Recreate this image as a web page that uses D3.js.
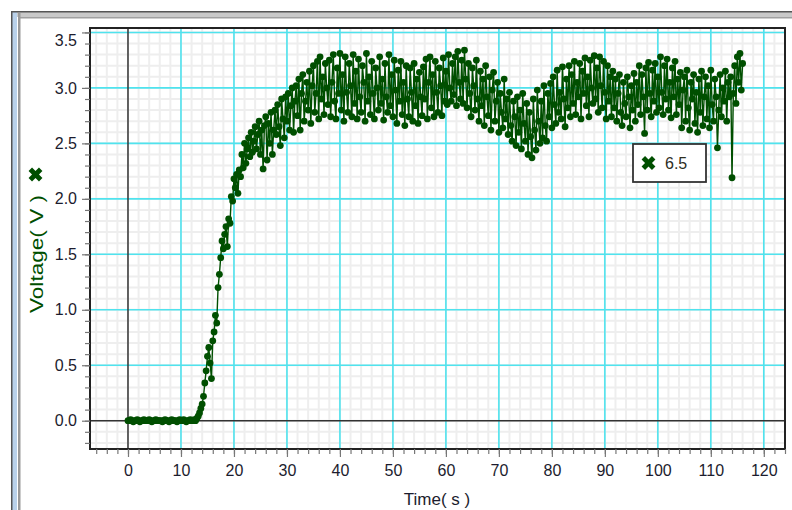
<!DOCTYPE html>
<html><head><meta charset="utf-8">
<script src="https://cdn.jsdelivr.net/npm/d3@7"></script>
<style>
html,body{margin:0;padding:0;background:#fff;}
svg{display:block;font-family:"Liberation Sans",Arial,sans-serif;}
</style>
</head><body>
<svg id="chart" width="792" height="510"></svg>
<script>
// ---------- data ----------
const xTickValues = [0,10,20,30,40,50,60,70,80,90,100,110,120];
const xTickLabels = ["0","10","20","30","40","50","60","70","80","90","100","110","120"];
const yTickValues = [0,0.5,1,1.5,2,2.5,3,3.5];
const yTickLabels = ["0.0","0.5","1.0","1.5","2.0","2.5","3.0","3.5"];
const xMinorTicks = d3.range(-6, 125, 2);
const yMinorTicks = d3.range(-2, 36, 1).map(v => v / 10);
const seriesName = "6.5";
const xTitle = "Time( s )";
const yTitle = "Voltage( V )";
const sampleInterval = 0.25; // seconds between samples, starting at t = 0
const voltage = [
  0.00,0.00,0.01,0.00,-0.01,0.00,0.00,0.01,
  0.00,-0.01,0.00,0.00,0.01,0.00,0.00,0.00,
  0.01,0.00,-0.01,0.00,0.00,0.01,0.00,0.00,
  0.00,0.00,-0.01,0.00,0.01,0.00,0.00,-0.01,
  0.00,0.01,0.00,0.00,0.00,-0.01,0.00,0.01,
  0.00,0.00,0.01,0.00,-0.01,0.00,0.00,0.01,
  0.00,0.00,0.01,0.00,0.02,0.04,0.07,0.11,
  0.15,0.22,0.34,0.45,0.58,0.66,0.52,0.38,
  0.72,0.80,0.95,0.88,1.20,1.32,1.47,1.62,
  1.55,1.68,1.75,1.57,1.82,1.78,2.02,1.98,
  2.18,2.10,2.22,2.05,2.26,2.20,2.40,2.28,
  2.50,2.32,2.45,2.55,2.38,2.60,2.42,2.52,
  2.65,2.45,2.58,2.70,2.40,2.62,2.27,2.66,
  2.74,2.35,2.68,2.50,2.78,2.40,2.62,2.80,
  2.58,2.85,2.65,2.48,2.90,2.72,2.55,2.92,
  2.70,2.95,2.62,2.84,3.00,2.60,2.88,3.02,
  2.75,3.08,2.62,2.95,3.12,2.70,2.88,3.05,
  2.80,3.15,2.68,3.02,3.20,2.78,2.95,3.24,
  2.72,3.28,2.90,3.10,2.76,3.22,3.00,2.85,
  3.25,2.74,3.05,3.30,2.88,2.72,3.18,2.95,
  3.31,2.80,3.12,2.70,3.28,2.96,2.78,3.22,
  3.02,2.74,3.30,2.86,3.15,2.72,3.26,2.92,
  2.78,3.20,3.05,2.70,3.31,2.88,3.10,2.76,
  3.24,2.95,2.72,3.18,3.00,2.80,3.28,2.86,
  3.08,2.71,3.22,2.92,2.78,3.30,2.84,3.12,
  2.74,3.25,2.98,2.68,3.16,2.88,3.24,2.76,
  3.05,2.66,3.20,2.90,2.74,3.18,2.96,2.70,
  3.22,2.84,3.08,2.68,3.14,2.92,2.75,3.19,
  2.90,3.26,2.72,3.05,3.28,2.82,3.12,2.74,
  3.24,2.96,2.78,3.18,3.02,2.75,3.27,2.88,
  3.15,2.85,3.30,3.00,2.88,3.22,2.94,3.28,
  2.84,3.33,3.05,2.90,3.25,2.86,3.34,3.08,
  2.82,3.22,2.95,2.74,3.18,3.02,2.80,3.25,
  2.90,2.70,3.15,2.84,3.08,2.66,3.20,2.92,
  2.75,3.10,2.62,2.98,3.14,2.70,2.88,3.05,
  2.60,2.95,2.78,2.64,3.08,2.72,2.90,2.58,
  2.96,2.66,2.52,2.88,2.74,2.48,2.92,2.60,
  2.80,2.45,2.95,2.68,2.52,2.86,2.40,2.78,
  2.56,2.37,2.90,2.62,2.44,2.98,2.70,2.50,
  2.88,2.55,3.02,2.66,2.52,2.95,2.74,3.04,
  2.64,3.10,2.85,2.68,3.16,2.78,2.96,2.72,
  3.19,2.90,2.65,3.08,2.82,3.20,2.74,3.12,
  2.86,3.24,2.76,3.05,2.92,3.22,2.72,3.15,
  2.95,3.27,2.84,3.10,2.74,3.25,3.00,2.86,
  3.29,2.90,3.18,2.78,3.28,3.02,2.82,3.24,
  2.96,2.72,3.20,2.88,3.10,2.74,3.15,2.82,
  3.08,2.70,2.95,3.12,2.78,2.66,3.05,2.86,
  2.74,3.10,2.92,2.64,3.02,2.80,3.13,2.70,
  3.05,2.85,3.20,2.76,3.12,2.92,2.59,3.18,
  2.80,3.23,2.95,2.74,3.16,2.88,3.22,2.78,
  3.10,2.82,3.28,2.96,2.76,3.20,2.90,3.26,
  2.80,3.05,2.73,3.18,2.92,3.24,2.76,3.08,
  2.85,3.14,2.64,2.98,3.10,2.70,3.16,2.82,
  2.62,3.05,2.90,3.12,2.68,2.96,2.60,3.08,
  2.78,3.15,2.66,2.92,3.10,2.72,3.02,2.64,
  3.16,2.85,2.70,3.08,2.92,2.46,2.80,3.12,
  2.74,3.00,2.88,3.15,2.70,3.05,2.92,3.10,
  2.19,2.95,3.20,2.86,3.28,3.05,3.31,2.98,
  3.22
];

// ---------- setup ----------
const data = voltage.map((v, i) => ({t: i * sampleInterval, v}));
const svg = d3.select("#chart");
const P = {left: 90, top: 28, right: 785, bottom: 449};
const x = d3.scaleLinear().domain([-7.17, 124]).range([P.left, P.right]);
const y = d3.scaleLinear().domain([-0.255, 3.54]).range([P.bottom, P.top]);
const green = "#004f00";
const cyan = "#4fe3ee";

// ---------- window frame ----------
svg.append("rect").attr("x", 0).attr("y", 0).attr("width", 792).attr("height", 510).attr("fill", "#fff");
svg.append("rect").attr("x", 12).attr("y", 12).attr("width", 780).attr("height", 5).attr("fill", "#c9c9c9");
svg.append("rect").attr("x", 12).attr("y", 12).attr("width", 5).attr("height", 498).attr("fill", "#b9d1ea");
svg.append("rect").attr("x", 18).attr("y", 17).attr("width", 774).attr("height", 1.5).attr("fill", "#a0a0a0");
svg.append("rect").attr("x", 18).attr("y", 13).attr("width", 2.5).attr("height", 497).attr("fill", "#9a9a9a");
svg.append("rect").attr("x", 11).attr("y", 11).attr("width", 781).attr("height", 1.5).attr("fill", "#555");
svg.append("rect").attr("x", 11).attr("y", 11).attr("width", 1.5).attr("height", 499).attr("fill", "#555");

// ---------- grid ----------
const g = svg.append("g");
g.selectAll(".vmin").data(xMinorTicks).enter().append("line")
  .attr("x1", d => x(d)).attr("x2", d => x(d)).attr("y1", P.top).attr("y2", P.bottom)
  .attr("stroke", "#eeeeee").attr("stroke-width", 2);
g.selectAll(".hmin").data(yMinorTicks).enter().append("line")
  .attr("y1", d => y(d)).attr("y2", d => y(d)).attr("x1", P.left).attr("x2", P.right)
  .attr("stroke", "#eeeeee").attr("stroke-width", 2);
g.selectAll(".vmaj").data(xTickValues.filter(d => d !== 0)).enter().append("line")
  .attr("x1", d => x(d)).attr("x2", d => x(d)).attr("y1", P.top).attr("y2", P.bottom)
  .attr("stroke", cyan).attr("stroke-width", 1.6);
g.selectAll(".hmaj").data(yTickValues.filter(d => d !== 0)).enter().append("line")
  .attr("y1", d => y(d)).attr("y2", d => y(d)).attr("x1", P.left).attr("x2", P.right)
  .attr("stroke", cyan).attr("stroke-width", 1.6);
g.append("line").attr("x1", x(0)).attr("x2", x(0)).attr("y1", P.top).attr("y2", P.bottom)
  .attr("stroke", "#333").attr("stroke-width", 1.5);
g.append("line").attr("y1", y(0)).attr("y2", y(0)).attr("x1", P.left).attr("x2", P.right)
  .attr("stroke", "#333").attr("stroke-width", 1.5);

// ---------- series ----------
const line = d3.line().x(d => x(d.t)).y(d => y(d.v));
svg.append("path").datum(data).attr("d", line).attr("fill", "none")
  .attr("stroke", green).attr("stroke-width", 1.4);
svg.append("g").selectAll("circle").data(data).enter().append("circle")
  .attr("cx", d => x(d.t)).attr("cy", d => y(d.v)).attr("r", 3.4).attr("fill", green);

// ---------- border ----------
svg.append("rect").attr("x", P.left).attr("y", P.top).attr("width", P.right - P.left).attr("height", P.bottom - P.top)
  .attr("fill", "none").attr("stroke", "#222").attr("stroke-width", 2);

// ---------- axes ----------
const xMinorAxis = d3.axisBottom(x).tickValues(xMinorTicks).tickSize(5).tickFormat("");
const xAxis = d3.axisBottom(x).tickValues(xTickValues).tickSize(8).tickPadding(8)
  .tickFormat((d, i) => xTickLabels[i]);
const yMinorAxis = d3.axisLeft(y).tickValues(yMinorTicks).tickSize(5).tickFormat("");
const yAxis = d3.axisLeft(y).tickValues(yTickValues).tickSize(8).tickPadding(6)
  .tickFormat((d, i) => yTickLabels[i]);

function styleAxis(sel) {
  sel.select(".domain").remove();
  sel.selectAll(".tick line").attr("stroke", "#777").attr("stroke-width", 1.2);
  sel.selectAll(".tick text").attr("fill", "#1c1c2e").style("font-size", "16px")
    .style("font-family", '"Liberation Sans", Arial, sans-serif');
}
svg.append("g").attr("transform", `translate(0,${P.bottom})`).call(xMinorAxis).call(styleAxis);
svg.append("g").attr("transform", `translate(0,${P.bottom})`).call(xAxis).call(styleAxis);
svg.append("g").attr("transform", `translate(${P.left},0)`).call(yMinorAxis).call(styleAxis);
const ya = svg.append("g").attr("transform", `translate(${P.left},0)`).call(yAxis).call(styleAxis);
ya.selectAll(".tick").filter(d => y(d) < 40).select("text").attr("y", 40 - y(3.5));
ya.selectAll(".tick text").attr("x", -13);

// ---------- titles ----------
svg.append("text").attr("x", 437).attr("y", 505).attr("text-anchor", "middle")
  .attr("fill", "#1c1c2e").style("font-size", "17px").text(xTitle);
svg.append("text").attr("transform", "translate(43,254) rotate(-90)").attr("text-anchor", "middle")
  .attr("fill", green).style("font-size", "18px")
  .attr("textLength", 118).attr("lengthAdjust", "spacingAndGlyphs").text(yTitle);

const xMark = d3.symbol().type(d3.symbolCross).size(120);
svg.append("path").attr("d", xMark()).attr("transform", "translate(35.5,174.5) rotate(45)").attr("fill", green);

// ---------- legend ----------
const lg = svg.append("g");
lg.append("rect").attr("x", 633).attr("y", 144).attr("width", 73).attr("height", 38)
  .attr("fill", "#fff").attr("stroke", "#333").attr("stroke-width", 1.8);
lg.append("path").attr("d", xMark()).attr("transform", "translate(648.5,163) rotate(45)").attr("fill", green);
lg.append("text").attr("x", 665).attr("y", 169).attr("fill", "#2e2e1e").style("font-size", "16px").text(seriesName);
</script>
</body></html>
